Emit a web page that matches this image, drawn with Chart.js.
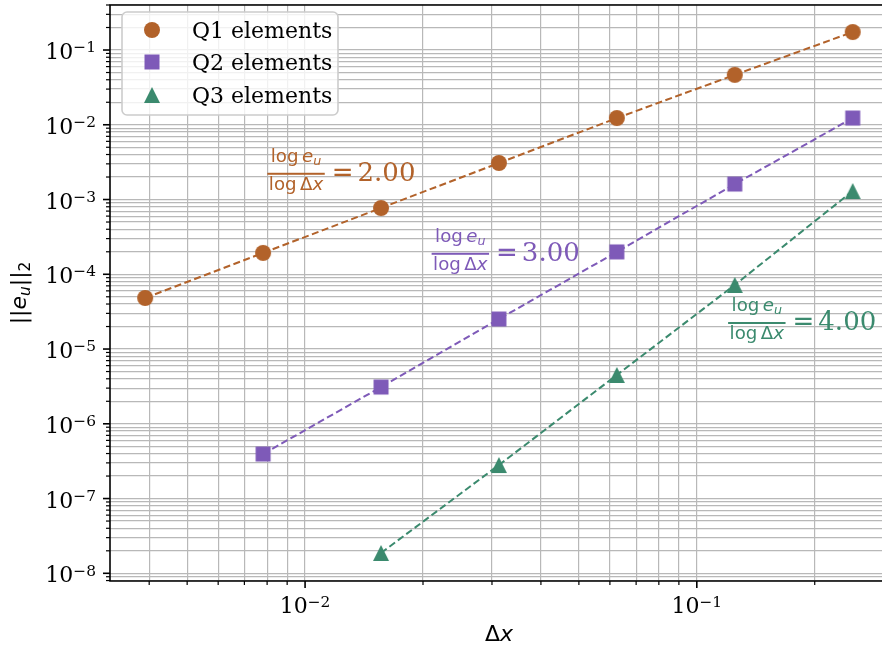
<!DOCTYPE html>
<html><head><meta charset="utf-8">
<script src="https://cdn.jsdelivr.net/npm/chart.js@4/dist/chart.umd.min.js"></script>
<style>html,body{margin:0;padding:0;overflow:hidden;background:#fff;width:882px;height:649px}</style>
</head><body>
<canvas id="c" width="882" height="649" style="display:block;width:882px;height:649px"></canvas>
<script>
// ---- data ----
const dx = [1/256, 1/128, 1/64, 1/32, 1/16, 1/8, 1/4];
const q1 = [4.82e-5, 1.93e-4, 7.7e-4, 3.08e-3, 1.23e-2, 4.65e-2, 1.74e-1];
const q2 = [null, 3.94e-7, 3.1e-6, 2.52e-5, 1.99e-4, 1.61e-3, 1.23e-2];
const q3 = [null, null, 1.87e-8, 2.81e-7, 4.5e-6, 7.2e-5, 1.3e-3];
const seriesLabels = ['Q1 elements', 'Q2 elements', 'Q3 elements'];
const seriesColors = ['#b2622a', '#7e5ab8', '#3b8a6e'];
const seriesShapes = ['circle', 'square', 'triangle'];
const rateLabels = ['2.00', '3.00', '4.00'];
const rateAnchorX = [0.00801, 0.02104, 0.1202];
const rateAnchorY = [2.21e-3, 1.88e-4, 2.23e-5];
const xMin = 0.003177, xMax = 0.2970;   // right edge of the picture (axis continues slightly beyond)
const xFullMax = 0.3076;                 // full axis extent, used only to centre the x label
const yMin = 7.89e-9, yMax = 0.40;

const SERIF = '"DejaVu Serif", serif';
const SANS = '"DejaVu Sans", sans-serif';

function makeMarker(shape, color, size) {
  const s = size + 4;
  const c = document.createElement('canvas');
  c.width = s; c.height = s;
  const g = c.getContext('2d');
  g.fillStyle = color;
  const m = s / 2, h = size / 2;
  g.beginPath();
  if (shape === 'circle') g.arc(m, m, h, 0, Math.PI * 2);
  else if (shape === 'square') g.rect(m - h + 0.5, m - h + 0.5, size - 1, size - 1);
  else { g.moveTo(m, m - h); g.lineTo(m + h, m + h); g.lineTo(m - h, m + h); g.closePath(); }
  g.fill();
  return c;
}
const markers = seriesShapes.map((s, i) => makeMarker(s, seriesColors[i], 16));

function logTicks(min, max) {
  const out = [];
  for (let k = Math.floor(Math.log10(min)); k <= Math.ceil(Math.log10(max)); k++) {
    for (let m = 1; m <= 9; m++) {
      const v = m * Math.pow(10, k);
      if (v >= min && v <= max) out.push({ value: v, major: m === 1 });
    }
  }
  return out;
}

const seriesValues = [q1, q2, q3];
const datasets = seriesValues.map((vals, i) => ({
  label: seriesLabels[i],
  data: dx.map((x, j) => ({ x: x, y: vals[j] })).filter(p => p.y != null),
  showLine: true,
  borderColor: seriesColors[i],
  borderWidth: 2,
  borderDash: [7, 3.5],
  pointStyle: markers[i],
  pointRadius: 8,
  backgroundColor: seriesColors[i],
  fill: false
}));

function runsWidth(ctx, runs) {
  let w = 0;
  for (const r of runs) { ctx.font = r.font; w += ctx.measureText(r.t).width + (r.gap || 0); }
  return w;
}
function drawRuns(ctx, runs, x, y) {
  for (const r of runs) {
    ctx.font = r.font;
    ctx.fillText(r.t, x, y + (r.dy || 0));
    x += ctx.measureText(r.t).width + (r.gap || 0);
  }
  return x;
}
function powRuns(v) {
  const k = Math.round(Math.log10(v));
  const e = k < 0 ? '\u2212' + (-k) : String(k);
  return [{ t: '10', font: '22px ' + SERIF }, { t: e, font: '15.4px ' + SERIF, dy: -6.8 }];
}

const deco = {
  id: 'deco',
  afterDraw(chart) {
    const ctx = chart.ctx, a = chart.chartArea;
    const xs = chart.scales.x, ys = chart.scales.y;
    ctx.save();
    ctx.fillStyle = '#000'; ctx.strokeStyle = '#000';
    ctx.textAlign = 'left'; ctx.textBaseline = 'alphabetic';
    // spines
    ctx.lineWidth = 1.6;
    ctx.beginPath();
    ctx.moveTo(a.right + 2, a.top); ctx.lineTo(a.left, a.top); ctx.lineTo(a.left, a.bottom); ctx.lineTo(a.right + 2, a.bottom);
    ctx.stroke();
    // x ticks
    for (const t of xs.ticks) {
      const p = xs.getPixelForValue(t.value);
      const major = Math.abs(Math.log10(t.value) - Math.round(Math.log10(t.value))) < 1e-9;
      ctx.lineWidth = major ? 1.6 : 1.2;
      ctx.beginPath(); ctx.moveTo(p, a.bottom); ctx.lineTo(p, a.bottom + (major ? 7 : 4)); ctx.stroke();
      if (major) {
        const r = powRuns(t.value);
        const w = runsWidth(ctx, r);
        drawRuns(ctx, r, p - w / 2, a.bottom + 32.3);
      }
    }
    // y ticks
    for (const t of ys.ticks) {
      const p = ys.getPixelForValue(t.value);
      const major = Math.abs(Math.log10(t.value) - Math.round(Math.log10(t.value))) < 1e-9;
      ctx.lineWidth = major ? 1.6 : 1.2;
      ctx.beginPath(); ctx.moveTo(a.left, p); ctx.lineTo(a.left - (major ? 7 : 4), p); ctx.stroke();
      if (major) {
        const r = powRuns(t.value);
        const w = runsWidth(ctx, r);
        drawRuns(ctx, r, a.left - 14 - w, p + 9);
      }
    }
    // x label
    {
      const r = [{ t: '\u0394', font: '22px ' + SANS }, { t: 'x', font: 'italic 22px ' + SANS }];
      const w = runsWidth(ctx, r);
      const cx = xs.getPixelForValue(Math.sqrt(xMin * xFullMax));
      drawRuns(ctx, r, cx - w / 2, 641);
    }
    // y label
    {
      ctx.save();
      ctx.translate(19, (a.top + a.bottom) / 2);
      ctx.rotate(-Math.PI / 2);
      const r = [
        { t: '||', font: '22px ' + SANS },
        { t: 'e', font: 'italic 22px ' + SANS },
        { t: 'u', font: 'italic 15.4px ' + SANS, dy: 3.5 },
        { t: '||', font: '22px ' + SANS },
        { t: '2', font: '15.4px ' + SANS, dy: 3.5 }
      ];
      const w = runsWidth(ctx, r);
      drawRuns(ctx, r, -w / 2, 7);
      ctx.restore();
    }
    // rate annotations
    for (let i = 0; i < rateLabels.length; i++) {
      const px = xs.getPixelForValue(rateAnchorX[i]);
      const py = ys.getPixelForValue(rateAnchorY[i]);
      ctx.fillStyle = seriesColors[i];
      const f = 18.2, fs = 12.7;
      const num = [
        { t: 'log', font: f + 'px ' + SANS, gap: 3.5 },
        { t: 'e', font: 'italic ' + f + 'px ' + SANS },
        { t: 'u', font: 'italic ' + fs + 'px ' + SANS, dy: 3 }
      ];
      const den = [
        { t: 'log', font: f + 'px ' + SANS, gap: 3.5 },
        { t: '\u0394', font: f + 'px ' + SANS },
        { t: 'x', font: 'italic ' + f + 'px ' + SANS }
      ];
      const nw = runsWidth(ctx, num), dw = runsWidth(ctx, den);
      const bw = Math.max(nw, dw) + 3;
      ctx.fillRect(px, py - 1, bw, 2);
      drawRuns(ctx, num, px + (bw - nw) / 2, py - 11.5);
      drawRuns(ctx, den, px + (bw - dw) / 2, py + 16);
      ctx.font = '26px ' + SANS;
      ctx.fillText('=', px + bw + 7, py + 7.5);
      const ew = ctx.measureText('=').width;
      ctx.font = '26px ' + SERIF;
      ctx.fillText(rateLabels[i], px + bw + 7 + ew + 4, py + 7.5);
    }
    // legend
    {
      const bx = 122, by = 12, bw = 216, bh = 103, rr = 5;
      ctx.beginPath();
      ctx.moveTo(bx + rr, by);
      ctx.arcTo(bx + bw, by, bx + bw, by + bh, rr);
      ctx.arcTo(bx + bw, by + bh, bx, by + bh, rr);
      ctx.arcTo(bx, by + bh, bx, by, rr);
      ctx.arcTo(bx, by, bx + bw, by, rr);
      ctx.closePath();
      ctx.fillStyle = 'rgba(255,255,255,0.8)';
      ctx.fill();
      ctx.strokeStyle = '#cccccc'; ctx.lineWidth = 1.6;
      ctx.stroke();
      const rows = [30, 62, 95];
      ctx.font = '22px ' + SERIF;
      for (let i = 0; i < seriesLabels.length; i++) {
        const m = markers[i];
        ctx.drawImage(m, 152 - m.width / 2, rows[i] - m.height / 2);
        ctx.fillStyle = '#000';
        ctx.fillText(seriesLabels[i], 192, rows[i] + 8);
      }
    }
    ctx.restore();
  }
};

new Chart(document.getElementById('c'), {
  type: 'scatter',
  data: { datasets: datasets },
  options: {
    responsive: false, animation: false, devicePixelRatio: 1, events: [],
    layout: { autoPadding: false, padding: { left: 110, top: 5, right: 0, bottom: 68 } },
    plugins: { legend: { display: false }, tooltip: { enabled: false } },
    scales: {
      x: {
        type: 'logarithmic', min: xMin, max: xMax, bounds: 'data',
        ticks: { display: false },
        grid: { color: '#b8b8b8', lineWidth: 1.2, drawTicks: false },
        border: { display: false },
        afterBuildTicks: s => { s.ticks = logTicks(xMin, xMax); }
      },
      y: {
        type: 'logarithmic', min: yMin, max: yMax, bounds: 'data',
        ticks: { display: false },
        grid: { color: '#b8b8b8', lineWidth: 1.2, drawTicks: false },
        border: { display: false },
        afterBuildTicks: s => { s.ticks = logTicks(yMin, yMax); }
      }
    }
  },
  plugins: [deco]
});
</script>
</body></html>
